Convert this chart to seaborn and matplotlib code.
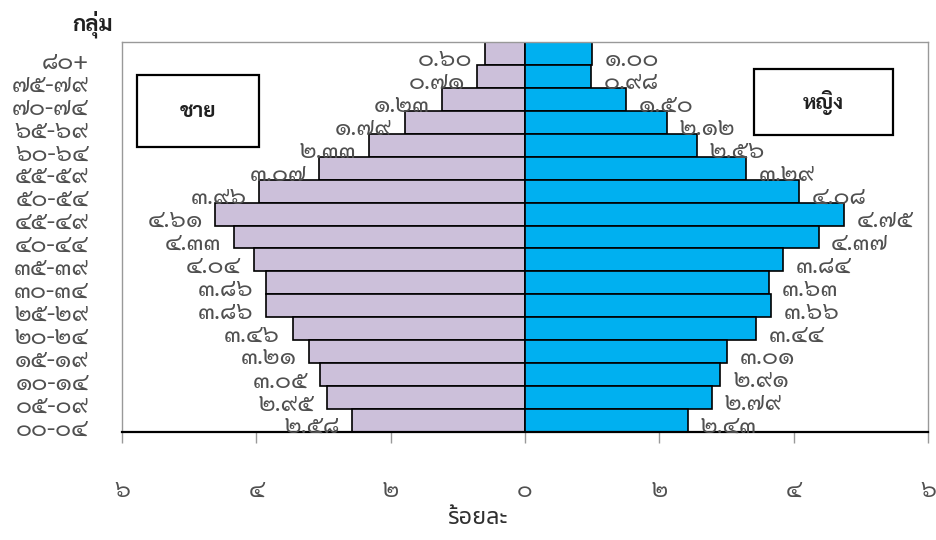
import matplotlib
matplotlib.use("Agg")
import matplotlib.pyplot as plt
from matplotlib.patches import Rectangle
from matplotlib.transforms import ScaledTranslation
import pandas as pd
import seaborn as sns

# Age groups (top to bottom) and percentage of population by sex
age_groups = ["๘๐+", "๗๕-๗๙", "๗๐-๗๔", "๖๕-๖๙", "๖๐-๖๔", "๕๕-๕๙", "๕๐-๕๔",
              "๔๕-๔๙", "๔๐-๔๔", "๓๕-๓๙", "๓๐-๓๔", "๒๕-๒๙", "๒๐-๒๔",
              "๑๕-๑๙", "๑๐-๑๔", "๐๕-๐๙", "๐๐-๐๔"]
male = [0.60, 0.71, 1.23, 1.79, 2.33, 3.07, 3.96, 4.61, 4.33, 4.04,
        3.86, 3.86, 3.46, 3.21, 3.05, 2.95, 2.58]
female = [1.00, 0.98, 1.50, 2.12, 2.56, 3.29, 4.08, 4.75, 4.37, 3.84,
          3.63, 3.66, 3.44, 3.01, 2.91, 2.79, 2.43]
x_ticks = [-6, -4, -2, 0, 2, 4, 6]

THAI_DIGITS = str.maketrans("0123456789", "๐๑๒๓๔๕๖๗๘๙")


def thai(s):
    return str(s).translate(THAI_DIGITS)


male_label = "ชาย"
female_label = "หญิง"

df = pd.DataFrame({
    "group": age_groups * 2,
    "sex": [male_label] * len(age_groups) + [female_label] * len(age_groups),
    "value": [-v for v in male] + list(female),
})

sns.set_style("white")
NUM_FONT = ["Sarabun", "Noto Sans Thai Looped", "DejaVu Sans"]
plt.rcParams["font.family"] = NUM_FONT
TEXT_GREY = "#505050"

fig = plt.figure(figsize=(9.37, 5.4), dpi=100)
ax = fig.add_axes([0.1302, 0.2, 0.8602, 0.7222])

sns.barplot(data=df, x="value", y="group", hue="sex", order=age_groups,
            hue_order=[male_label, female_label],
            palette={male_label: "#CCC0DA", female_label: "#00B0F0"},
            saturation=1, dodge=False, width=1.0, edgecolor="black",
            linewidth=1.2, orient="h", legend=False, ax=ax)

ax.set_xlim(-6, 6)
ax.set_ylim(len(age_groups) - 0.5, -0.5)
ax.set_xticks(x_ticks)
ax.set_xticklabels([thai(abs(t)) for t in x_ticks], fontsize=17, color=TEXT_GREY)
ax.tick_params(axis="x", direction="out", length=8, width=1, color="#999999",
               pad=26, bottom=True)
ax.tick_params(axis="y", length=0, pad=24)
ax.set_yticklabels(age_groups, fontsize=17.5, color=TEXT_GREY)
shift_down = ScaledTranslation(0, -4 / 72, fig.dpi_scale_trans)
for lab in ax.get_yticklabels():
    lab.set_transform(lab.get_transform() + shift_down)
ax.set_xlabel("")
ax.set_ylabel("")

for side in ("left", "top", "right"):
    ax.spines[side].set_color("#999999")
    ax.spines[side].set_linewidth(1.0)
ax.spines["bottom"].set_color("black")
ax.spines["bottom"].set_linewidth(1.6)

# Value labels beside each bar end
for i, (m, f) in enumerate(zip(male, female)):
    ax.annotate(thai(f"{m:.2f}"), xy=(-m, i), xytext=(-9, -4.5),
                textcoords="offset points", ha="right", va="center",
                fontsize=17.5, color=TEXT_GREY)
    ax.annotate(thai(f"{f:.2f}"), xy=(f, i), xytext=(9, -4.5),
                textcoords="offset points", ha="left", va="center",
                fontsize=17.5, color=TEXT_GREY)

# Sex label boxes
for (x0, x1, y0, y1, txt) in [(0.0186, 0.1700, 0.7308, 0.9154, male_label),
                              (0.7841, 0.9566, 0.7615, 0.9308, female_label)]:
    ax.add_patch(Rectangle((x0, y0), x1 - x0, y1 - y0, transform=ax.transAxes,
                           facecolor="white", edgecolor="black", linewidth=1.6,
                           zorder=5))
    ax.text((x0 + x1) / 2, (y0 + y1) / 2, txt, transform=ax.transAxes,
            ha="center", va="center", fontsize=15, fontweight="bold",
            color="#202020", zorder=6)

fig.text(93 / 937, 1 - 24 / 540, "กลุ่ม", ha="center", va="center",
         fontsize=16, fontweight="bold", color="#202020")
fig.text(477 / 937, 1 - 518 / 540, "ร้อยละ", ha="center", va="center",
         fontsize=17, color="#303030", family=["Noto Sans Thai", "DejaVu Sans"])

fig.savefig("out.png", dpi=100)
